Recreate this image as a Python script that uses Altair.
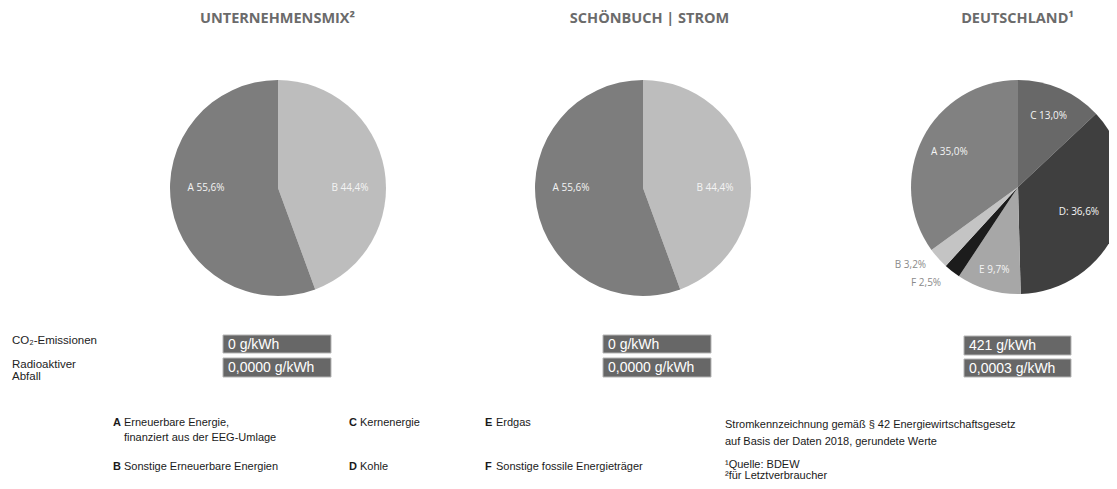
import altair as alt
import pandas as pd

# ---------------- data ----------------
panel_titles = ["UNTERNEHMENSMIX²", "SCHÖNBUCH | STROM", "DEUTSCHLAND¹"]

mix_categories = ["B", "A"]
mix_shares = [44.4, 55.6]
mix_labels = ["B 44,4%", "A 55,6%"]

de_categories = ["C", "D", "E", "F", "B", "A"]
de_shares = [13.0, 36.6, 9.7, 2.5, 3.2, 35.0]
de_labels = ["C 13,0%", "D: 36,6%", "E 9,7%", "F 2,5%", "B 3,2%", "A 35,0%"]

row_labels = [["CO₂-Emissionen"], ["Radioaktiver", "Abfall"]]
co2_values = ["0 g/kWh", "0 g/kWh", "421 g/kWh"]
waste_values = ["0,0000 g/kWh", "0,0000 g/kWh", "0,0003 g/kWh"]

legend_letters = ["A", "B", "C", "D", "E", "F"]
legend_texts = [
    ["Erneuerbare Energie,", "finanziert aus der EEG-Umlage"],
    ["Sonstige Erneuerbare Energien"],
    ["Kernenergie"],
    ["Kohle"],
    ["Erdgas"],
    ["Sonstige fossile Energieträger"],
]
notes = [
    "Stromkennzeichnung gemäß § 42 Energiewirtschaftsgesetz",
    "auf Basis der Daten 2018, gerundete Werte",
    "¹Quelle: BDEW",
    "²für Letztverbraucher",
]

# ---------------- style / layout ----------------
MIX_COLORS = {"A": "#7d7d7d", "B": "#bdbdbd"}
DE_COLORS = {"A": "#818181", "B": "#c4c4c4", "C": "#686868", "D": "#3f3f3f", "E": "#a7a7a7", "F": "#1c1c1c"}
PANEL_X = [270, 635, 1010]
PIE_Y = 180
PIE_R = [108, 108, 107]
TITLE_X = [269.5, 641.5, 1009.5]
BOX_X = [(215, 323), (595, 703), (956, 1063)]
BOX_Y = [[(327, 345), (350, 369)], [(327, 345), (350, 369)], [(328, 347), (351, 369)]]
LEG_X = [105, 105, 341, 341, 477, 477]
LEG_Y = [415, 459, 415, 459, 415, 459]
NOTE_Y = [417, 434, 457, 468]
SANS = "Liberation Sans"
LABEL_FONT = "Open Sans"
# radius groups for labels inside the Germany pie
DE_LABEL_RADII = [(["C", "A"], 77), (["D"], 66), (["E"], 86)]


def txt(s, x, y, size=11, color="#222222", font=SANS, weight="normal", align="left"):
    return alt.Chart(pd.DataFrame({"t": [s]})).mark_text(
        x=x, y=y, fontSize=size, color=color, font=font, fontWeight=weight,
        align=align, baseline="middle",
    ).encode(text="t:N")


def box(x0, x1, y0, y1):
    return alt.Chart(pd.DataFrame({"t": [0]})).mark_rect(
        fill="#676767", stroke="#b5b5b5", strokeWidth=1
    ).encode(x=alt.value(x0), x2=alt.value(x1), y=alt.value(y0), y2=alt.value(y1))


def pie(cats, shares, labels, colors, cx, cy, r):
    df = pd.DataFrame({"cat": cats, "share": shares, "label": labels, "idx": list(range(len(cats)))})
    base = alt.Chart(df).encode(
        theta=alt.Theta("share:Q", stack="normalize"),
        order=alt.Order("idx:Q"),
    )
    arcs = base.mark_arc(x=cx, y=cy, outerRadius=r).encode(
        color=alt.Color("cat:N", scale=alt.Scale(domain=cats, range=[colors[c] for c in cats]), legend=None)
    )
    return base, arcs


layers = []

# titles
for t, x in zip(panel_titles, TITLE_X):
    layers.append(txt(t, x, 10.5, size=14.5, color="#6b6b6b", font=LABEL_FONT, weight="bold", align="center"))

# two-slice pies
for i in range(2):
    base, arcs = pie(mix_categories, mix_shares, mix_labels, MIX_COLORS, PANEL_X[i], PIE_Y, PIE_R[i])
    lab = base.mark_text(
        x=PANEL_X[i], y=PIE_Y, radius=72, thetaOffset=0.1745,
        font=LABEL_FONT, fontSize=10, color="#f4f4f4",
    ).encode(text="label:N")
    layers += [arcs, lab]

# Germany pie
base, arcs = pie(de_categories, de_shares, de_labels, DE_COLORS, PANEL_X[2], PIE_Y - 1, PIE_R[2])
layers.append(arcs)
for group, rad in DE_LABEL_RADII:
    cond = "indexof(%s, datum.cat) >= 0 ? datum.label : ''" % str(group)
    layers.append(
        base.transform_calculate(shown=cond).mark_text(
            x=PANEL_X[2], y=PIE_Y - 1, radius=rad,
            font=LABEL_FONT, fontSize=10, color="#f4f4f4",
        ).encode(text="shown:N")
    )
layers.append(
    base.transform_calculate(
        shown="indexof(['B','F'], datum.cat) >= 0 ? datum.label : ''"
    ).mark_text(
        x=PANEL_X[2], y=PIE_Y - 1, radius=133, thetaOffset=0.1,
        font=LABEL_FONT, fontSize=10, color="#8a8a8a",
    ).encode(text="shown:N")
)

# row labels at left
layers.append(txt(row_labels[0][0], 4, 333, size=11.5))
layers.append(txt(row_labels[1][0], 4, 357, size=11.5))
layers.append(txt(row_labels[1][1], 4, 368.5, size=11.5))

# value boxes
for i in range(3):
    x0, x1 = BOX_X[i]
    for (y0, y1), val in zip(BOX_Y[i], [co2_values[i], waste_values[i]]):
        layers.append(box(x0, x1, y0, y1))
        layers.append(txt(val, x0 + 5, (y0 + y1) / 2 + 0.5, size=14, color="#ffffff"))

# legend
for letter, lines, x, y in zip(legend_letters, legend_texts, LEG_X, LEG_Y):
    layers.append(txt(letter, x, y, size=11, weight="bold", color="#1a1a1a"))
    for k, line in enumerate(lines):
        layers.append(txt(line, x + 11, y + 15 * k, size=11, color="#1a1a1a"))

# notes
for line, y in zip(notes, NOTE_Y):
    layers.append(txt(line, 717, y, size=11, color="#1a1a1a"))

chart = alt.layer(*layers).resolve_scale(
    color="independent", theta="independent"
).properties(
    width=1101, height=473, autosize=alt.AutoSizeParams(type="none"), padding=0,
    background="#ffffff",
).configure_view(strokeWidth=0)

chart.save("out.html", embed_options={"renderer": "svg", "actions": False})
